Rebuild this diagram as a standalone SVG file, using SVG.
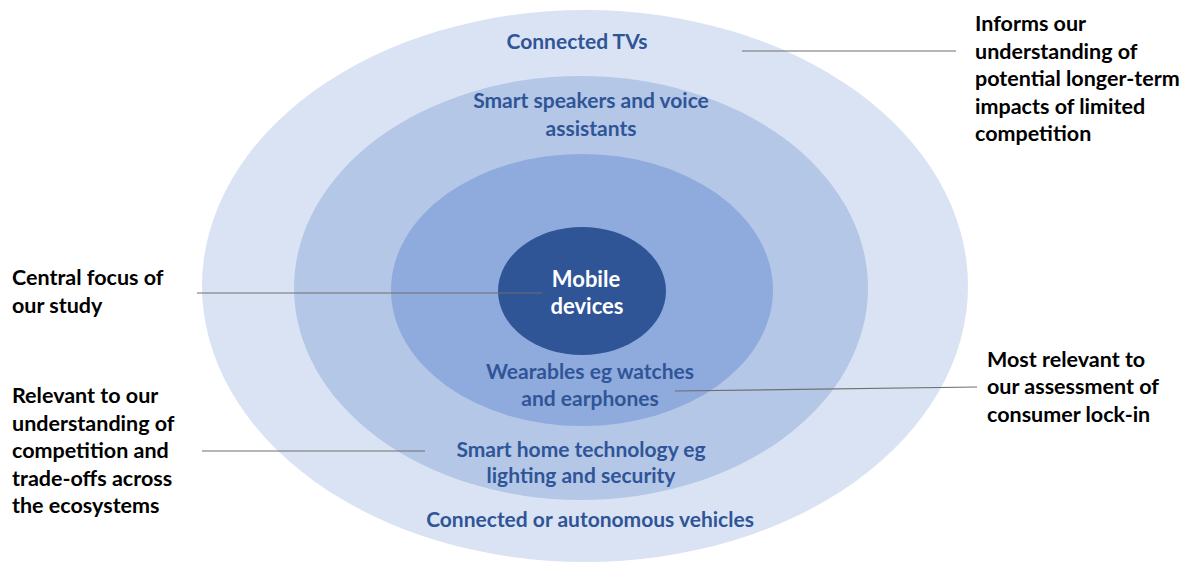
<svg xmlns="http://www.w3.org/2000/svg" width="1181" height="562" viewBox="0 0 1181 562">
<style>
.blue{font-family:Lato,"Liberation Sans",sans-serif;font-weight:bold;font-size:21px;fill:#2F5597;text-anchor:middle}
.white{font-family:Lato,"Liberation Sans",sans-serif;font-weight:bold;font-size:22px;fill:#FFFFFF;text-anchor:middle}
.lbl{font-family:Lato,"Liberation Sans",sans-serif;font-weight:bold;font-size:21.5px;fill:#000000}
.conn line{stroke:#6F6F6F;stroke-width:1.2}
</style>
<rect width="1181" height="562" fill="#FFFFFF"/>
<g id="ring-tvs">
<ellipse cx="585" cy="286" rx="383" ry="276" fill="#DAE3F3"/>
</g>
<g id="ring-speakers">
<ellipse cx="581" cy="288" rx="287" ry="212" fill="#B4C7E7"/>
</g>
<g id="ring-wearables">
<ellipse cx="582" cy="290" rx="191" ry="136" fill="#8FAADC"/>
</g>
<g id="core-mobile">
<ellipse cx="582" cy="291" rx="84" ry="64" fill="#2F5597"/>
</g>
<g id="connectors" class="conn">
<line x1="742" y1="51" x2="956" y2="51"/>
<line x1="197" y1="293" x2="542" y2="293"/>
<line x1="675" y1="391" x2="977" y2="387"/>
<line x1="202" y1="451" x2="425" y2="451"/>
</g>
<g id="ring-labels">
<text class="blue" x="577" y="49">Connected TVs</text>
<text class="blue" x="591" y="108">Smart speakers and voice</text>
<text class="blue" x="591" y="136">assistants</text>
<text class="white" x="586" y="287">Mobile</text>
<text class="white" x="587" y="314">devices</text>
<text class="blue" x="590" y="379">Wearables eg watches</text>
<text class="blue" x="590" y="406">and earphones</text>
<text class="blue" x="581" y="457">Smart home technology eg</text>
<text class="blue" x="581" y="483">lighting and security</text>
<text class="blue" x="590" y="527">Connected or autonomous vehicles</text>
</g>
<g id="note-informs">
<text class="lbl" x="975" y="31">Informs our</text>
<text class="lbl" x="975" y="58.5">understanding of</text>
<text class="lbl" x="975" y="86">potential longer-term</text>
<text class="lbl" x="975" y="113.5">impacts of limited</text>
<text class="lbl" x="975" y="141">competition</text>
</g>
<g id="note-central">
<text class="lbl" x="12" y="285">Central focus of</text>
<text class="lbl" x="12" y="313">our study</text>
</g>
<g id="note-relevant">
<text class="lbl" x="12" y="403">Relevant to our</text>
<text class="lbl" x="12" y="431">understanding of</text>
<text class="lbl" x="12" y="458">competition and</text>
<text class="lbl" x="12" y="486">trade-offs across</text>
<text class="lbl" x="12" y="513">the ecosystems</text>
</g>
<g id="note-most">
<text class="lbl" x="987" y="367">Most relevant to</text>
<text class="lbl" x="987" y="394">our assessment of</text>
<text class="lbl" x="987" y="422">consumer lock-in</text>
</g>
</svg>
